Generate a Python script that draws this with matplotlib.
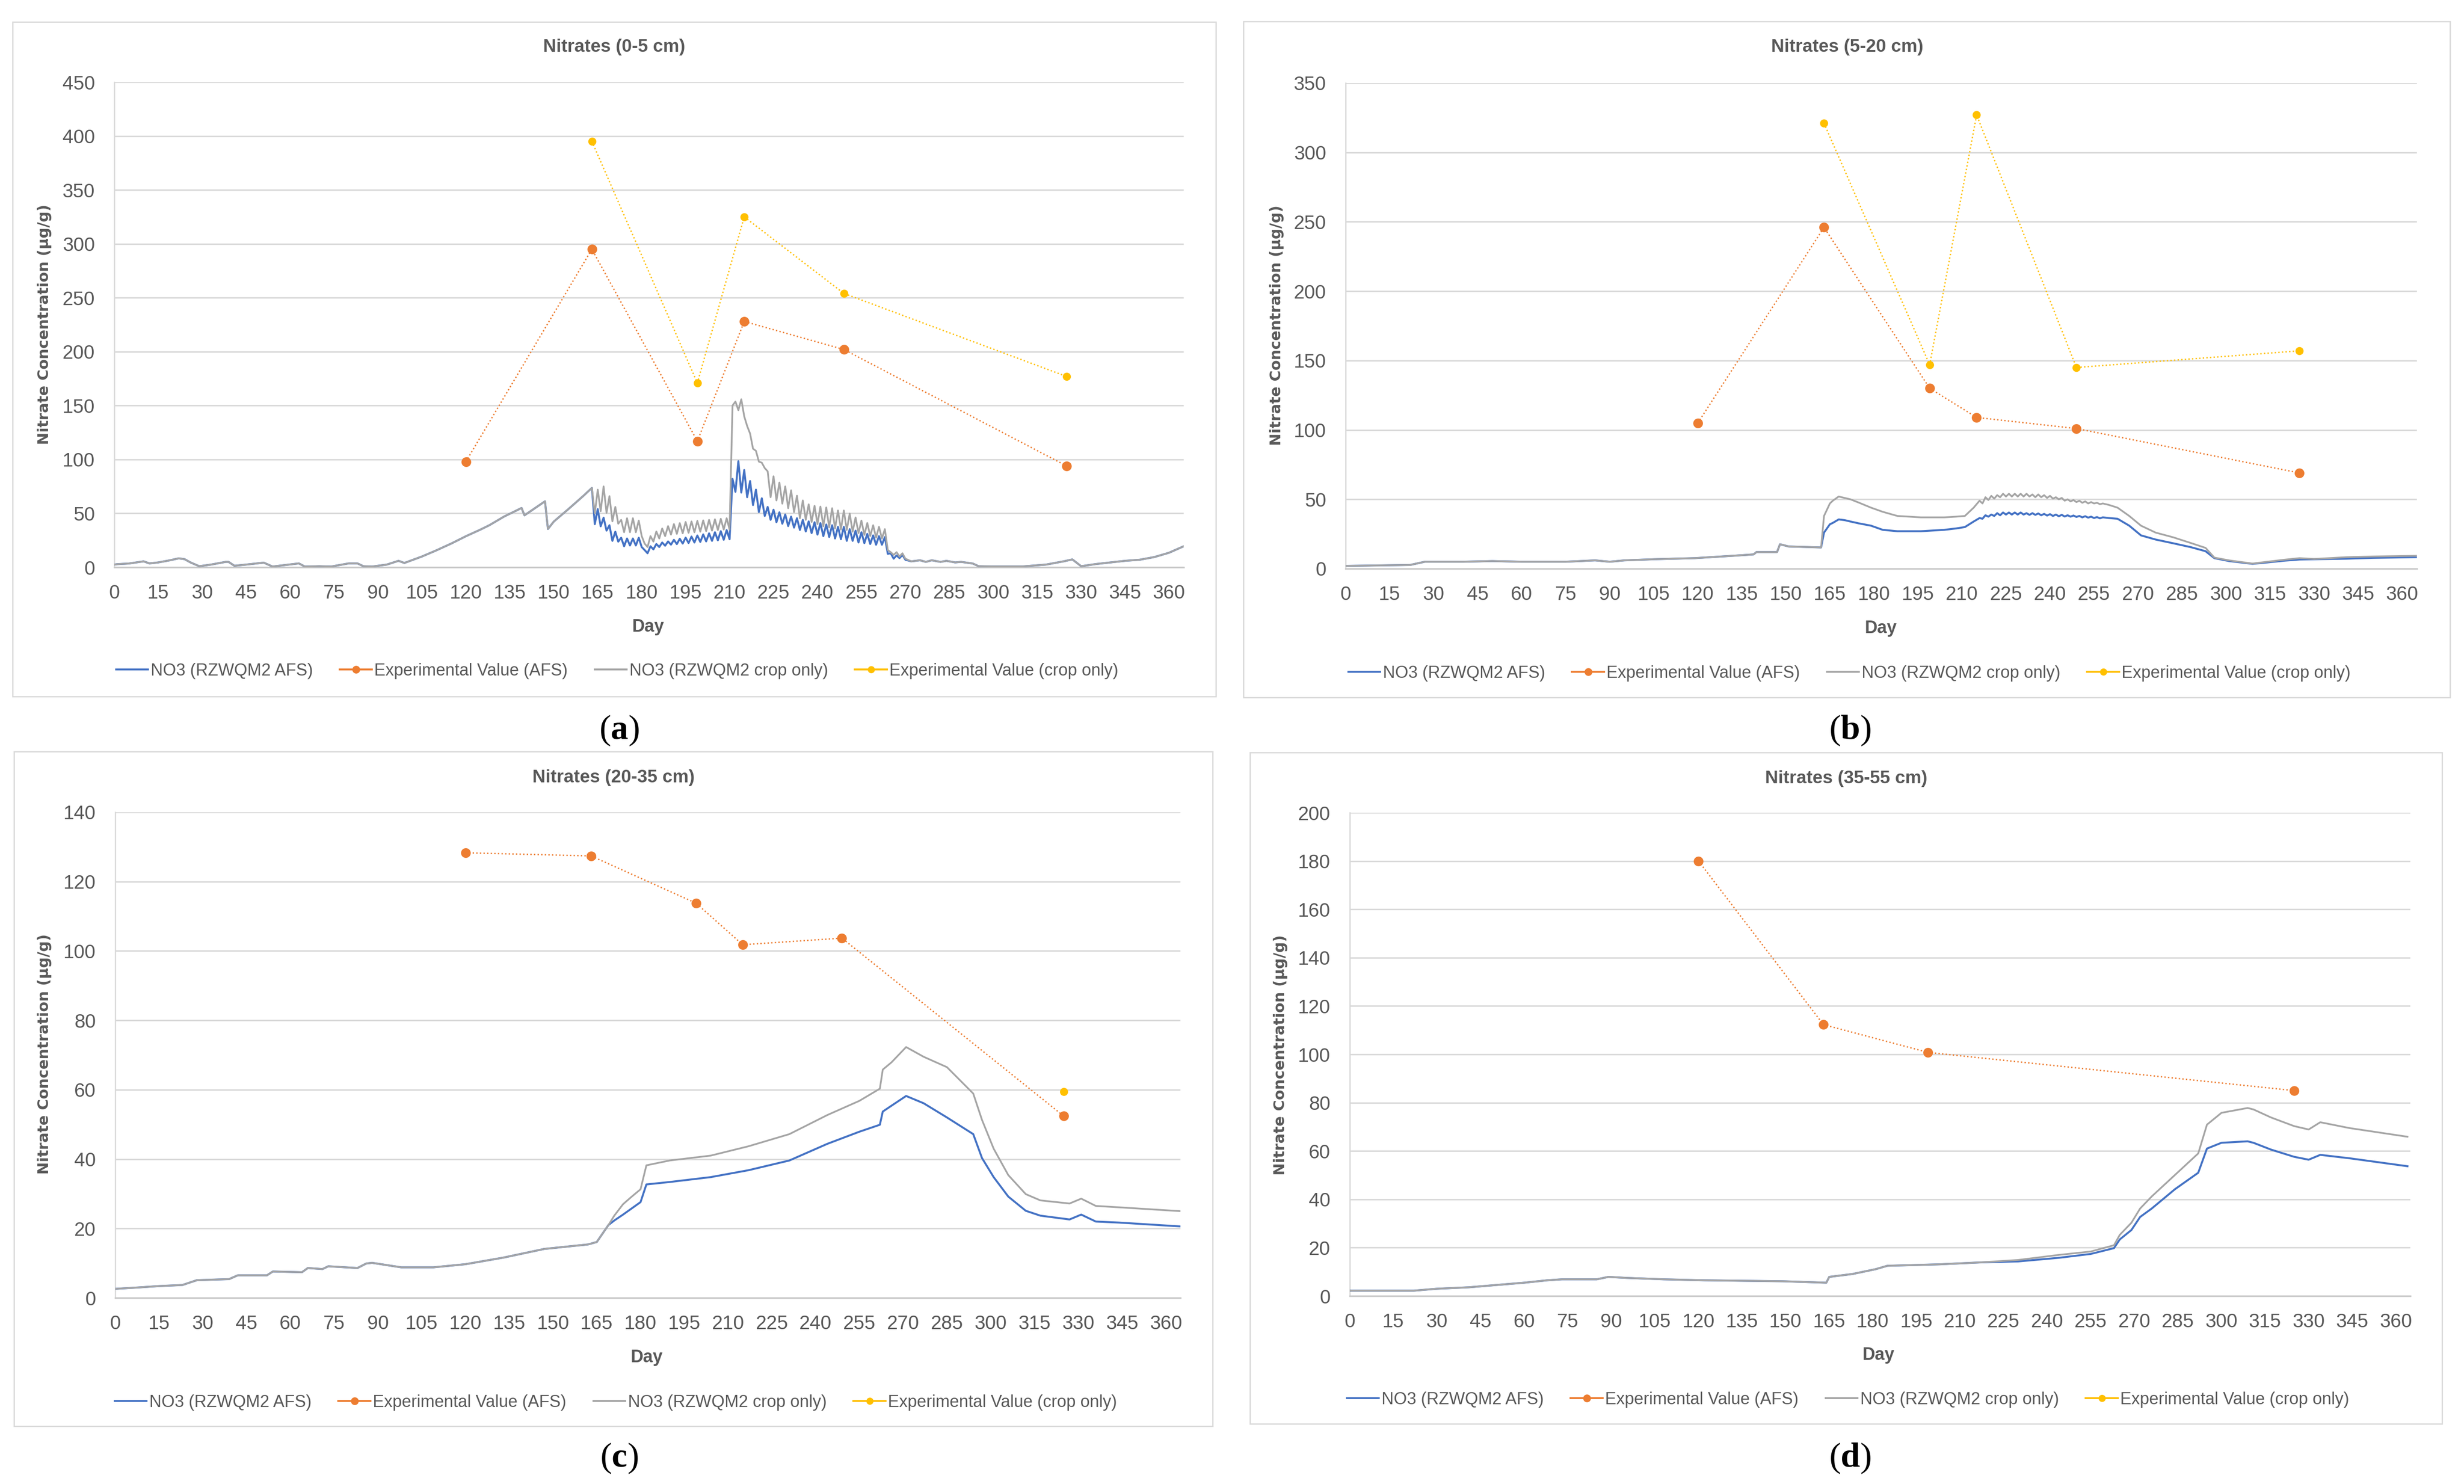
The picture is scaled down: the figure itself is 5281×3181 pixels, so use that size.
import matplotlib
matplotlib.use("Agg")
import matplotlib.pyplot as plt
from matplotlib.lines import Line2D
from matplotlib.patches import Rectangle

W, H = 5281, 3181

# ---------------- data ----------------
# (a) 0-5 cm : model output (blue = AFS, grey = crop only), shared where the lines coincide
day_a_early = [0, 1, 5, 10, 12, 15, 19, 22, 24, 26, 29, 33, 38, 39, 41, 45, 51, 54, 58, 63,
               65, 70, 74, 80, 83, 85, 88, 93, 97, 99, 105, 110, 115, 120, 125, 128, 133, 139, 140, 147,
               148, 150, 155, 160, 163]
no3_a_early = [2.5, 2.9, 3.5, 5.5, 3.6, 4.5, 6.5, 8.3, 7.5, 4.5, 1.0, 2.5, 5.0, 5.0, 1.4, 2.5, 4.3, 0.7, 2.0, 3.6,
               0.7, 1.0, 0.7, 3.6, 3.6, 1.0, 0.7, 2.5, 6.0, 4.0, 10.0, 15.8, 22.0, 28.8, 35.0, 39.0, 47.0, 55.0, 48.2, 61.2,
               35.5, 42.4, 54.0, 66.0, 73.6]
day_a_mid = list(range(164, 271))
crop_a_mid = [50.0, 72.0, 52.0, 75.0, 50.5, 66.0, 42.6, 56.0, 40.4, 44.0,
              32.5, 45.5, 32.5, 45.5, 32.5, 43.3, 29.0, 22.0, 18.8, 28.9,
              23.8, 33.2, 26.7, 36.0, 28.9, 38.2, 30.3, 40.1, 31.0, 41.0,
              31.5, 42.0, 32.0, 42.5, 32.5, 43.0, 33.0, 43.5, 33.5, 44.0,
              34.0, 44.5, 34.5, 45.0, 35.0, 45.5, 35.0, 150.0, 153.7, 145.7,
              155.8, 140.0, 131.0, 124.0, 110.0, 108.0, 98.0, 97.0, 92.0, 89.0,
              65.0, 84.4, 62.0, 78.6, 59.0, 75.0, 54.8, 71.4, 51.2, 66.4,
              45.5, 62.0, 44.0, 58.4, 42.0, 57.0, 40.0, 56.3, 38.0, 55.5,
              37.0, 54.8, 36.0, 52.7, 35.0, 52.7, 34.6, 49.8, 33.0, 46.2,
              31.7, 43.3, 30.0, 41.1, 29.0, 39.0, 27.5, 37.5, 26.7, 35.4,
              16.0, 14.0, 11.5, 14.0, 10.0, 13.0, 8.0]
afs_a_mid = [40.0, 54.0, 38.0, 46.0, 34.0, 39.0, 24.5, 33.0, 23.8, 27.4,
             19.5, 26.7, 20.2, 26.7, 20.2, 27.4, 18.8, 16.0, 13.0, 19.5,
             16.6, 21.6, 18.8, 23.0, 20.0, 24.0, 21.0, 25.5, 21.5, 26.5,
             22.0, 27.5, 22.5, 28.5, 23.0, 29.5, 23.5, 30.5, 24.0, 31.5,
             24.5, 32.5, 25.0, 33.5, 25.5, 34.5, 26.0, 82.0, 70.0, 98.4,
             69.3, 90.2, 65.0, 80.0, 57.7, 72.0, 51.2, 64.0, 47.6, 56.0,
             44.0, 53.4, 41.8, 51.0, 40.4, 49.0, 38.2, 47.0, 36.8, 45.5,
             34.6, 44.0, 33.2, 42.6, 31.7, 41.8, 30.3, 41.0, 28.9, 39.7,
             28.1, 39.0, 26.7, 37.5, 26.0, 37.5, 24.5, 35.4, 24.5, 34.0,
             23.0, 32.5, 22.4, 31.0, 21.6, 29.6, 20.9, 28.9, 20.9, 28.0,
             12.5, 13.0, 8.0, 11.0, 8.5, 11.5, 7.0]
day_a_late = [272, 275, 277, 279, 282, 284, 287, 289, 293, 295, 300, 310, 318, 324, 327, 330,
              335, 340, 345, 350, 355, 360, 365]
no3_a_late = [5.5, 6.5, 5.0, 6.5, 5.0, 6.0, 4.5, 5.0, 3.5, 1.0, 0.8, 0.8, 2.5, 5.5, 7.3, 1.0,
              3.0, 4.5, 6.0, 7.0, 9.5, 13.5, 19.5]
day_a = day_a_early + day_a_mid + day_a_late
afs_a = no3_a_early + afs_a_mid + no3_a_late
crop_a = no3_a_early + crop_a_mid + no3_a_late
exp_day_a = [120, 163, 199, 215, 249, 325]
exp_afs_a = [98, 295, 117, 228, 202, 94]
exp_crop_day_a = [163, 199, 215, 249, 325]
exp_crop_a = [395, 171, 325, 254, 177]

# (b) 5-20 cm
day_b = ([0, 22, 27, 40, 50, 60, 75, 85, 90, 95, 105, 119, 132, 139, 140, 147, 148, 151, 162,
          163, 165, 166, 168, 170, 172, 175, 179, 183, 188, 192, 196, 200, 204, 208, 211, 214, 216]
         + list(range(217, 259))
         + [260, 263, 267, 271, 276, 282, 288, 293, 296, 301, 309, 314, 320, 325, 330, 341, 350, 365])
no3_b_early = [2.0, 2.7, 5.0, 5.0, 5.5, 5.0, 5.0, 6.0, 5.0, 6.0, 6.8, 7.6, 9.3, 10.3, 12.0, 12.0, 17.6, 16.0, 15.3]
crop_b = no3_b_early + [38.0, 47.0, 49.0, 52.0, 51.0, 50.0, 47.5, 44.0, 41.0, 38.0, 37.5, 37.0, 37.0, 37.0,
                        37.5, 38.0, 44.0, 49.0,
                        47.0, 51.5, 49.5, 52.5, 50.5, 53.0, 51.5, 54.0, 52.0, 54.0, 52.0, 54.0, 52.0, 54.0,
                        52.0, 54.0, 52.0, 53.5, 51.5, 53.5, 51.5, 53.0, 51.0, 52.5, 50.5, 51.5, 50.0, 51.0,
                        49.0, 50.0, 48.5, 49.5, 48.0, 49.0, 47.5, 48.5, 47.0, 48.0, 47.0, 47.5, 46.5, 47.0,
                        46.0, 44.0, 38.0, 31.0, 26.0, 22.6, 18.5, 15.0, 8.0, 6.0, 3.7, 5.0, 6.5, 7.6, 7.0,
                        8.3, 8.8, 9.3]
afs_b = no3_b_early + [26.0, 32.0, 33.0, 35.5, 35.0, 34.0, 32.6, 31.0, 28.0, 27.0, 27.0, 27.0, 27.5, 28.0,
                       29.0, 30.0, 34.0, 36.5,
                       36.0, 38.5, 37.5, 39.0, 38.0, 40.0, 38.5, 40.5, 39.0, 40.5, 39.0, 40.5, 39.0, 40.5,
                       39.0, 40.0, 38.8, 40.0, 38.8, 39.8, 38.5, 39.5, 38.3, 39.3, 38.0, 39.0, 37.8, 38.8,
                       37.6, 38.5, 37.5, 38.3, 37.3, 38.0, 37.0, 37.8, 36.8, 37.5, 36.5, 37.2, 36.3, 37.0,
                       36.5, 36.0, 31.0, 24.0, 21.0, 18.3, 15.5, 12.6, 7.6, 5.5, 3.5, 4.5, 5.8, 6.6, 6.8,
                       7.2, 7.8, 8.3]
exp_day_b = [120, 163, 199, 215, 249, 325]
exp_afs_b = [105, 246, 130, 109, 101, 69]
exp_crop_day_b = [163, 199, 215, 249, 325]
exp_crop_b = [321, 147, 327, 145, 157]

# (c) 20-35 cm
day_c = [0, 8, 15, 23, 28, 39, 42, 52, 54, 64, 66, 71, 73, 83, 86, 88, 98, 109, 120, 133, 147, 162, 165, 169,
         171, 174, 177, 180, 182, 190, 204, 217, 231, 244, 255, 262, 263, 266, 271, 277, 285, 294, 297, 301,
         306, 312, 317, 327, 331, 336, 344, 363, 365]
no3_c_early = [2.6, 3.0, 3.4, 3.7, 5.1, 5.4, 6.5, 6.5, 7.6, 7.4, 8.6, 8.3, 9.1, 8.6, 9.9, 10.1, 8.8, 8.8, 9.7,
               11.6, 14.1, 15.4, 16.1, 21.0]
crop_c = no3_c_early + [23.7, 27.0, 29.2, 31.3, 38.2, 39.6, 41.0, 43.7, 47.2, 52.7, 56.8, 60.3, 65.8, 67.9,
                        72.3, 69.5, 66.5, 58.9, 51.3, 43.0, 35.4, 29.9, 28.1, 27.2, 28.6, 26.5, 26.1, 25.1, 25.0]
afs_c = no3_c_early + [22.3, 24.0, 25.8, 27.6, 32.7, 33.4, 34.8, 36.8, 39.6, 44.4, 47.9, 49.9, 53.7, 55.4,
                       58.2, 56.1, 52.0, 47.2, 40.3, 34.8, 29.2, 25.1, 23.7, 22.6, 24.0, 22.0, 21.7, 20.7, 20.6]
exp_day_c = [120, 163, 199, 215, 249, 325]
exp_afs_c = [128.3, 127.4, 113.8, 101.8, 103.7, 52.4]
exp_crop_day_c = [325]
exp_crop_c = [59.4]

# (d) 35-55 cm
day_d = [0, 22, 30, 41, 51, 60, 68, 73, 85, 89, 95, 108, 122, 149, 164, 165, 173, 181, 185, 203, 217,
         230, 244, 255, 263, 265, 269, 272, 276, 284, 292, 295, 300, 309, 311, 317, 325, 330, 334, 344, 364]
no3_d_early = [2.2, 2.2, 3.0, 3.6, 4.6, 5.5, 6.5, 6.9, 6.9, 7.9, 7.5, 6.9, 6.5, 6.1, 5.5, 7.9, 9.1, 11.1,
               12.5, 13.1, 13.9]
crop_d = no3_d_early + [14.9, 17.0, 18.4, 21.0, 25.3, 30.3, 36.2, 41.2, 50.1, 59.0, 70.9, 75.8, 77.8, 77.2,
                        73.9, 70.3, 68.9, 71.9, 69.5, 65.9]
afs_d = no3_d_early + [14.3, 15.8, 17.4, 19.8, 23.4, 27.3, 32.7, 36.2, 44.2, 51.0, 61.0, 63.4, 64.0, 63.4,
                       60.6, 57.6, 56.4, 58.4, 57.0, 53.7]
exp_day_d = [120, 163, 199, 325]
exp_afs_d = [180, 112.3, 100.8, 85]
exp_crop_day_d = []
exp_crop_d = []

titles = ['Nitrates (0-5 cm)', 'Nitrates (5-20 cm)', 'Nitrates (20-35 cm)', 'Nitrates (35-55 cm)']
tags = ['a', 'b', 'c', 'd']
ymax = [450, 350, 140, 200]
ystep = [50, 50, 20, 20]
x_ticks = list(range(0, 361, 15))
legend_labels = ['NO3 (RZWQM2 AFS)', 'Experimental Value (AFS)',
                 'NO3 (RZWQM2 crop only)', 'Experimental Value (crop only)']

# ---------------- style ----------------
BLUE = '#4472C4'
ORANGE = '#ED7D31'
GREY = '#A5A5A5'
GOLD = '#FFC000'
TXT = '#595959'
GRID = '#D9D9D9'

plt.rcParams['font.family'] = ['Liberation Sans', 'DejaVu Sans']
plt.rcParams['mathtext.fontset'] = 'custom'
plt.rcParams['mathtext.rm'] = 'Liberation Serif'
plt.rcParams['mathtext.bf'] = 'Liberation Serif:bold'

# pixel layout of each chart: box, plot area (l, t, r, b), title, y label, "Day", legend, tag
layout = [
    dict(box=(27, 47, 2606, 1493), axes=(245, 176, 2537, 1216), title=(1316, 101), ylab=(96, 695),
         day=(1389, 1344), leg=(1323, 1438), tag=(1327, 1566)),
    dict(box=(2665, 46, 5251, 1495), axes=(2884, 178, 5180, 1219), title=(3959, 101), ylab=(2736, 697),
         day=(4031, 1347), leg=(3964, 1443), tag=(3965, 1566)),
    dict(box=(30, 1611, 2599, 3057), axes=(247, 1741, 2530, 2782), title=(1315, 1667), ylab=(96, 2259),
         day=(1386, 2910), leg=(1320, 3006), tag=(1327, 3126)),
    dict(box=(2679, 1613, 5234, 3052), axes=(2893, 1742, 5166, 2778), title=(3957, 1669), ylab=(2744, 2261),
         day=(4026, 2905), leg=(3961, 3000), tag=(3965, 3126)),
]

series = [
    (day_a, afs_a, crop_a, exp_day_a, exp_afs_a, exp_crop_day_a, exp_crop_a),
    (day_b, afs_b, crop_b, exp_day_b, exp_afs_b, exp_crop_day_b, exp_crop_b),
    (day_c, afs_c, crop_c, exp_day_c, exp_afs_c, exp_crop_day_c, exp_crop_c),
    (day_d, afs_d, crop_d, exp_day_d, exp_afs_d, exp_crop_day_d, exp_crop_d),
]


def fx(x):
    return x / W


def fy(y):
    return 1 - y / H


fig = plt.figure(figsize=(W / 100, H / 100), dpi=100)
fig.patch.set_facecolor('white')

# Excel "round dot" dash
dotted = (0, (1, 1.65))

for i, (lay, s) in enumerate(zip(layout, series)):
    day, afs, crop, e_day, e_afs, ec_day, e_crop = s

    # chart area border
    bl, bt, br, bb = lay['box']
    fig.patches.append(Rectangle((fx(bl), fy(bb)), (br - bl) / W, (bb - bt) / H,
                                 transform=fig.transFigure, fill=False,
                                 edgecolor=GRID, lw=2))

    l, t, r, b = lay['axes']
    ax = fig.add_axes([fx(l), fy(b), (r - l) / W, (b - t) / H])

    ax.plot(day, afs, color=BLUE, lw=3.0, zorder=3)
    ax.plot(e_day, e_afs, color=ORANGE, lw=2.1, ls=dotted, marker='o', ms=15,
            markeredgewidth=0, zorder=4)
    ax.plot(day, crop, color=GREY, lw=2.7, zorder=3)
    if e_crop:
        ax.plot(ec_day, e_crop, color=GOLD, lw=2.1, ls=dotted, marker='o', ms=12.5,
                markeredgewidth=0, zorder=5)

    ax.set_xlim(0, 365)
    ax.set_ylim(0, ymax[i])
    ax.set_xticks(x_ticks)
    ax.set_yticks(list(range(0, ymax[i] + 1, ystep[i])))
    ax.tick_params(length=0, labelsize=30, labelcolor=TXT)
    ax.tick_params(axis='x', pad=26)
    ax.tick_params(axis='y', pad=30)
    ax.yaxis.grid(True, color=GRID, lw=2.3)
    ax.set_axisbelow(True)
    for side in ['top', 'right']:
        ax.spines[side].set_visible(False)
    ax.spines['left'].set_color(GRID)
    ax.spines['left'].set_linewidth(2)
    ax.spines['bottom'].set_color('#C9C9C9')
    ax.spines['bottom'].set_linewidth(2.5)

    fig.text(fx(lay['title'][0]), fy(lay['title'][1]), titles[i], fontsize=28,
             fontweight='bold', color=TXT, ha='center', va='center')
    fig.text(fx(lay['day'][0]), fy(lay['day'][1]), 'Day', fontsize=27,
             fontweight='bold', color=TXT, ha='center', va='center')
    fig.text(fx(lay['ylab'][0]), fy(lay['ylab'][1]), 'Nitrate Concentration (µg/g)',
             fontsize=23, fontweight='bold', family='DejaVu Sans', color=TXT,
             rotation=90, ha='center', va='center')

    handles = [Line2D([], [], color=BLUE, lw=3),
               Line2D([], [], color=ORANGE, lw=3, marker='o', ms=12, markeredgewidth=0),
               Line2D([], [], color=GREY, lw=3),
               Line2D([], [], color=GOLD, lw=3, marker='o', ms=11, markeredgewidth=0)]
    fig.legend(handles, legend_labels, loc='center',
               bbox_to_anchor=(fx(lay['leg'][0]), fy(lay['leg'][1])),
               ncol=4, frameon=False, fontsize=26, labelcolor=TXT,
               handlelength=1.9, handletextpad=0.15, columnspacing=1.6)

    fig.text(fx(lay['tag'][0]), fy(lay['tag'][1]), r'$(\mathbf{%s})$' % tags[i],
             fontsize=54, color='black', ha='center', va='center')

fig.savefig('out.png', dpi=100, facecolor='white')
